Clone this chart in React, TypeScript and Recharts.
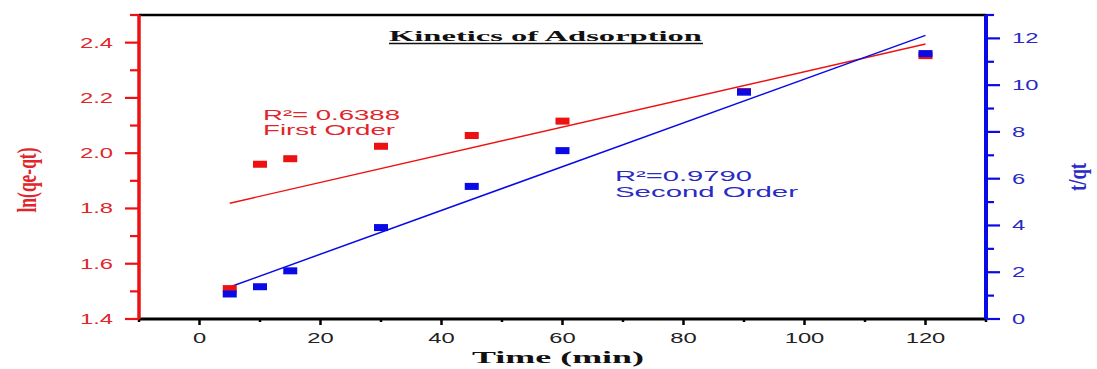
import React from 'react';
import { ComposedChart, Scatter, Line, XAxis, YAxis, ReferenceLine } from 'recharts';

// ---- data ----
const timeMin = [5, 10, 15, 30, 45, 60, 90, 120];
const lnQeQt = [1.51, 1.96, 1.98, 2.025, 2.064, 2.116, 2.223, 2.353];
const tOverQt = [1.07, 1.38, 2.06, 3.91, 5.67, 7.2, 9.7, 11.35];
const firstOrderFitX = [5, 120];
const firstOrderFitY = [1.819, 2.395];
const secondOrderFitX = [5, 120];
const secondOrderFitY = [1.37, 12.13];

const xMajorTicks = [0, 20, 40, 60, 80, 100, 120];
const xMinorTicks = [-10, 10, 30, 50, 70, 90, 110, 130];
const leftMajorTicks = [1.4, 1.6, 1.8, 2.0, 2.2, 2.4];
const leftMinorTicks = [1.5, 1.7, 1.9, 2.1, 2.3, 2.5];
const rightMajorTicks = [0, 2, 4, 6, 8, 10, 12];
const rightMinorTicks = [1, 3, 5, 7, 9, 11, 13];

const RED = '#ee1111';
const BLUE = '#0a0ae6';
const RED_TEXT = '#e0262b';
const BLUE_TEXT = '#2a2ac4';

const firstData = timeMin.map((x, i) => ({ x, y: lnQeQt[i] }));
const secondData = timeMin.map((x, i) => ({ x, y: tOverQt[i] }));
const firstFit = firstOrderFitX.map((x, i) => ({ x, y: firstOrderFitY[i] }));
const secondFit = secondOrderFitX.map((x, i) => ({ x, y: secondOrderFitY[i] }));

const isIn = (arr: number[], v: number) => arr.some((t) => Math.abs(t - v) < 1e-6);

const TICK_FONT = "'Liberation Sans', Arial, sans-serif";
const SERIF = "'Liberation Serif', 'Times New Roman', serif";
const SX = 1.7;
const TFS = 14;

const LeftTick = (props: any) => {
  const { x, y, payload } = props;
  const v = payload.value;
  const major = isIn(leftMajorTicks, v);
  return (
    <g>
      <line x1={x} x2={x - (major ? 14 : 9)} y1={y} y2={y} stroke={RED} strokeWidth={2.2} />
      {major && (
        <text
          transform={`translate(${x - 26},${y + 5}) scale(${SX},1)`}
          textAnchor="end"
          fontFamily={TICK_FONT}
          fontSize={TFS}
          fill={RED_TEXT}
        >
          {v.toFixed(1)}
        </text>
      )}
    </g>
  );
};

const RightTick = (props: any) => {
  const { x, y, payload } = props;
  const v = payload.value;
  const major = isIn(rightMajorTicks, v);
  return (
    <g>
      <line x1={x} x2={x + (major ? 14 : 8)} y1={y} y2={y} stroke={BLUE} strokeWidth={2.2} />
      {major && (
        <text
          transform={`translate(${x + 26},${y + 5}) scale(${SX},1)`}
          textAnchor="start"
          fontFamily={TICK_FONT}
          fontSize={TFS}
          fill={BLUE_TEXT}
        >
          {v}
        </text>
      )}
    </g>
  );
};

const BottomTick = (props: any) => {
  const { x, y, payload } = props;
  const v = payload.value;
  const major = isIn(xMajorTicks, v);
  return (
    <g>
      <line x1={x} x2={x} y1={y} y2={y + (major ? 6 : 3)} stroke="#000" strokeWidth={2.5} />
      {major && (
        <text
          transform={`translate(${x},${y + 24}) scale(${SX},1)`}
          textAnchor="middle"
          fontFamily={TICK_FONT}
          fontSize={TFS}
          fill="#222"
        >
          {v}
        </text>
      )}
    </g>
  );
};

const RedSquare = (props: any) => {
  const { cx, cy } = props;
  return <rect x={cx - 7} y={cy - 3.5} width={14} height={7} fill={RED} />;
};
const BlueSquare = (props: any) => {
  const { cx, cy } = props;
  return <rect x={cx - 7} y={cy - 3.5} width={14} height={7} fill={BLUE} />;
};

const W = 1097;
const H = 369;

export default function App() {
  return (
    <div style={{ position: 'absolute', left: 0, top: 0, width: W, height: H, background: '#fff' }}>
      <ComposedChart width={W} height={H} margin={{ top: 15, right: 0, bottom: 0, left: 0 }}>
        <XAxis
          type="number"
          dataKey="x"
          domain={[-10, 130]}
          ticks={[...xMajorTicks, ...xMinorTicks].sort((a, b) => a - b)}
          interval={0}
          height={50}
          tickSize={0}
          tickMargin={0}
          tickLine={false}
          tick={BottomTick}
          axisLine={{ stroke: '#000', strokeWidth: 3 }}
          allowDataOverflow
        />
        <YAxis
          yAxisId="left"
          orientation="left"
          type="number"
          domain={[1.4, 2.5]}
          ticks={[...leftMajorTicks, ...leftMinorTicks].sort((a, b) => a - b)}
          interval={0}
          width={139}
          tickSize={0}
          tickMargin={0}
          tickLine={false}
          tick={LeftTick}
          axisLine={{ stroke: RED, strokeWidth: 3.5 }}
          allowDataOverflow
        />
        <YAxis
          yAxisId="right"
          orientation="right"
          type="number"
          domain={[0, 13]}
          ticks={[...rightMajorTicks, ...rightMinorTicks].sort((a, b) => a - b)}
          interval={0}
          width={111}
          tickSize={0}
          tickMargin={0}
          tickLine={false}
          tick={RightTick}
          axisLine={{ stroke: BLUE, strokeWidth: 4 }}
          allowDataOverflow
        />
        <ReferenceLine yAxisId="left" y={2.5} stroke="#000" strokeWidth={2.5} />
        <Scatter yAxisId="left" data={firstData} dataKey="y" shape={RedSquare} isAnimationActive={false} />
        <Line
          yAxisId="left"
          data={firstFit}
          dataKey="y"
          type="linear"
          stroke={RED}
          strokeWidth={1.4}
          dot={false}
          activeDot={false}
          isAnimationActive={false}
        />
        <Scatter yAxisId="right" data={secondData} dataKey="y" shape={BlueSquare} isAnimationActive={false} />
        <Line
          yAxisId="right"
          data={secondFit}
          dataKey="y"
          type="linear"
          stroke={BLUE}
          strokeWidth={1.5}
          dot={false}
          activeDot={false}
          isAnimationActive={false}
        />
      </ComposedChart>
      <svg
        width={W}
        height={H}
        style={{ position: 'absolute', left: 0, top: 0, pointerEvents: 'none' }}
      >
        <text
          x={389}
          y={41}
          textLength={313}
          lengthAdjust="spacingAndGlyphs"
          fontFamily={SERIF}
          fontWeight="bold"
          fontSize={15}
          fill="#111"
        >
          Kinetics of Adsorption
        </text>
        <line x1={389} x2={703} y1={43.5} y2={43.5} stroke="#111" strokeWidth={1.3} />

        <text x={263} y={120} textLength={137} lengthAdjust="spacingAndGlyphs" fontFamily={TICK_FONT} fontSize={14} fill={RED_TEXT}>
          R²= 0.6388
        </text>
        <text x={263} y={135} textLength={132} lengthAdjust="spacingAndGlyphs" fontFamily={TICK_FONT} fontSize={14} fill={RED_TEXT}>
          First Order
        </text>
        <text x={615} y={181} textLength={137} lengthAdjust="spacingAndGlyphs" fontFamily={TICK_FONT} fontSize={14} fill={BLUE_TEXT}>
          R²=0.9790
        </text>
        <text x={615} y={197} textLength={183} lengthAdjust="spacingAndGlyphs" fontFamily={TICK_FONT} fontSize={14} fill={BLUE_TEXT}>
          Second Order
        </text>

        <text
          x={472}
          y={363}
          textLength={172}
          lengthAdjust="spacingAndGlyphs"
          fontFamily={SERIF}
          fontWeight="bold"
          fontSize={17}
          fill="#111"
        >
          Time (min)
        </text>

        <text
          transform="translate(26,180) scale(1.6,1) rotate(-90)"
          textAnchor="middle"
          dy="0.35em"
          textLength={65}
          lengthAdjust="spacingAndGlyphs"
          fontFamily={SERIF}
          fontWeight="bold"
          fontSize={17.5}
          fill={RED_TEXT}
        >
          ln(qe-qt)
        </text>
        <text
          transform="translate(1077,177) scale(1.4,1) rotate(-90)"
          textAnchor="middle"
          dy="0.35em"
          textLength={28}
          lengthAdjust="spacingAndGlyphs"
          fontFamily={SERIF}
          fontWeight="bold"
          fontSize={18}
          fill={BLUE_TEXT}
        >
          t/qt
        </text>
      </svg>
    </div>
  );
}
